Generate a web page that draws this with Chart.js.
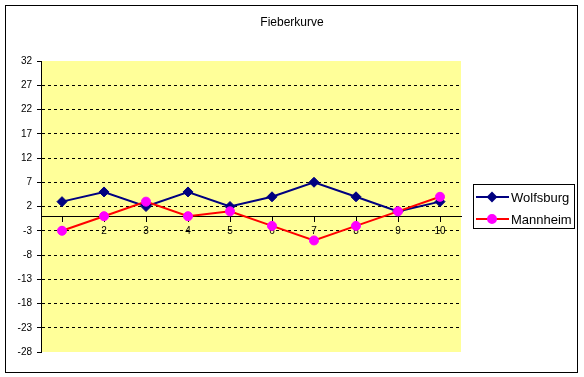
<!DOCTYPE html>
<html>
<head>
<meta charset="utf-8">
<script src="https://cdn.jsdelivr.net/npm/chart.js@4/dist/chart.umd.min.js"></script>
<style>
  html, body { margin: 0; padding: 0; background: #fff; }
  #wrap { width: 584px; height: 377px; }
</style>
</head>
<body>
<div id="wrap"><canvas id="chart"></canvas></div>
<script>
"use strict";

const chartTitle = 'Fieberkurve';
const categories = ['1', '2', '3', '4', '5', '6', '7', '8', '9', '10'];
const seriesNames = ['Wolfsburg', 'Mannheim'];
const wolfsburg = [3, 5, 2, 5, 2, 4, 7, 4, 1, 3];
const mannheim = [-3, 0, 3, 0, 1, -2, -5, -2, 1, 4];
const yMin = -28;
const yMax = 32;
const yStep = 5;

(() => {
  const canvas = document.getElementById('chart');
  const FONT = '"Liberation Sans", Arial, sans-serif';

  // Excel-like frame: yellow plot area, outer border, title and boxed legend
  const excelFrame = {
    id: 'excelFrame',
    beforeDraw(chart) {
      const { ctx, chartArea: a } = chart;
      ctx.save();
      ctx.fillStyle = '#fff';
      ctx.fillRect(0, 0, chart.width, chart.height);
      ctx.fillStyle = '#FFFF99';
      ctx.fillRect(a.left, a.top, a.right - a.left, a.bottom - a.top);
      ctx.restore();
    },
    afterDraw(chart) {
      const ctx = chart.ctx;
      ctx.save();
      ctx.strokeStyle = '#000';
      ctx.lineWidth = 1;
      ctx.strokeRect(5.5, 5.5, 572, 367);

      ctx.fillStyle = '#000';
      ctx.font = '12px ' + FONT;
      ctx.textAlign = 'center';
      ctx.textBaseline = 'middle';
      ctx.fillText(chartTitle, 292, 23);

      // legend
      ctx.strokeRect(473.5, 184.5, 101, 44);
      ctx.font = '13px ' + FONT;
      ctx.textAlign = 'left';
      chart.data.datasets.forEach((ds, i) => {
        const y = 197 + i * 22;
        ctx.strokeStyle = ds.borderColor;
        ctx.lineWidth = 2;
        ctx.beginPath();
        ctx.moveTo(476, y);
        ctx.lineTo(509, y);
        ctx.stroke();
        ctx.fillStyle = ds.pointBackgroundColor;
        ctx.strokeStyle = ds.pointBorderColor;
        Chart.helpers.drawPoint(ctx, {
          pointStyle: ds.pointStyle, radius: 4, borderWidth: 1
        }, 492, y);
        ctx.fillStyle = '#000';
        ctx.fillText(ds.label, 511, y + 1);
      });
      ctx.restore();
    }
  };

  const config = {
    type: 'line',
    data: {
      labels: categories,
      datasets: [{
        label: seriesNames[0],
        data: wolfsburg,
        borderColor: '#000080',
        borderWidth: 2,
        pointStyle: 'rectRot',
        pointRadius: 5,
        pointBackgroundColor: '#000080',
        pointBorderColor: '#000080',
        pointBorderWidth: 1,
        tension: 0,
        order: 1
      }, {
        label: seriesNames[1],
        data: mannheim,
        borderColor: '#FF0000',
        borderWidth: 2,
        pointStyle: 'circle',
        pointRadius: 4.5,
        pointBackgroundColor: '#FF00FF',
        pointBorderColor: '#FF00FF',
        pointBorderWidth: 1,
        tension: 0,
        order: 0
      }]
    },
    options: {
      responsive: true,
      maintainAspectRatio: false,
      animation: false,
      layout: {
        padding: { left: 0, top: 61, right: 123, bottom: 25 }
      },
      plugins: {
        legend: { display: false },
        title: { display: false },
        tooltip: { enabled: false }
      },
      scales: {
        x: {
          position: { y: 0 },
          offset: true,
          grid: {
            drawOnChartArea: false,
            drawTicks: true,
            tickLength: 5,
            color: '#000',
            tickColor: '#000'
          },
          border: { display: true, color: '#000', width: 1 },
          ticks: {
            color: '#000',
            padding: 4,
            maxRotation: 0,
            font: { family: FONT, size: 10 }
          }
        },
        y: {
          min: yMin,
          max: yMax,
          afterFit: (scale) => { scale.width = 41; },
          grid: {
            color: (ctx) => (ctx.tick && (ctx.tick.value === yMin || ctx.tick.value === yMax)) ? 'rgba(0,0,0,0)' : '#000',
            tickColor: '#000',
            tickLength: 4,
            tickBorderDash: [],
            lineWidth: 1
          },
          border: { display: true, color: '#000', width: 1, dash: [3, 3] },
          ticks: {
            stepSize: yStep,
            color: '#000',
            padding: 5,
            font: { family: FONT, size: 10 }
          }
        }
      }
    },
    plugins: [excelFrame]
  };

  new Chart(canvas, config);
})();
</script>
</body>
</html>
